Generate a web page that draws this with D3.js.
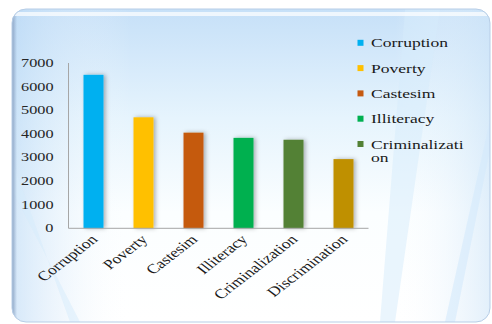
<!DOCTYPE html>
<html>
<head>
<meta charset="utf-8">
<script src="https://cdn.jsdelivr.net/npm/d3@7"></script>
<style>
html,body{margin:0;padding:0;background:#fff;}
svg{display:block;}
svg text{font-family:"Liberation Serif","Times New Roman","DejaVu Serif",serif;}
</style>
</head>
<body>
<script>
const categories = ["Corruption","Poverty","Castesim","Illiteracy","Criminalization","Discrimination"];
const values = [6500, 4700, 4050, 3830, 3750, 2930];
const colors = ["#00b0f0","#ffc000","#c55a11","#00b050","#538135","#bf9000"];
const legendLabels = [["Corruption"],["Poverty"],["Castesim"],["Illiteracy"],["Criminalizati","on"]];
const yTicks = [0,1000,2000,3000,4000,5000,6000,7000];

const W = 492, H = 324, SX = 1.3;
const svg = d3.select("body").append("svg").attr("width",W).attr("height",H);
const defs = svg.append("defs");

const g1 = defs.append("linearGradient").attr("id","bgV").attr("x1",0).attr("y1",0).attr("x2",0).attr("y2",1);
g1.append("stop").attr("offset","0%").attr("stop-color","#c6e0f8");
g1.append("stop").attr("offset","35%").attr("stop-color","#e6f4fd");
g1.append("stop").attr("offset","65%").attr("stop-color","#fbfeff");
g1.append("stop").attr("offset","100%").attr("stop-color","#ffffff");

const g2 = defs.append("linearGradient").attr("id","bgH").attr("x1",0).attr("y1",0).attr("x2",1).attr("y2",0);
g2.append("stop").attr("offset","0%").attr("stop-color","#b9d8f5").attr("stop-opacity",0.6);
g2.append("stop").attr("offset","25%").attr("stop-color","#ffffff").attr("stop-opacity",0);
g2.append("stop").attr("offset","80%").attr("stop-color","#ffffff").attr("stop-opacity",0);
g2.append("stop").attr("offset","100%").attr("stop-color","#cfe5f8").attr("stop-opacity",0.6);

const gL = defs.append("linearGradient").attr("id","edgeL").attr("x1",0).attr("y1",0).attr("x2",1).attr("y2",0);
gL.append("stop").attr("offset","0%").attr("stop-color","#8ea6c6");
gL.append("stop").attr("offset","100%").attr("stop-color","#8ea6c6").attr("stop-opacity",0);

const sh = defs.append("filter").attr("id","shadow").attr("x","-50%").attr("y","-10%").attr("width","200%").attr("height","120%");
sh.append("feDropShadow").attr("dx",2).attr("dy",0).attr("stdDeviation",2).attr("flood-color","#000").attr("flood-opacity",0.3);

const clip = defs.append("clipPath").attr("id","panelClip");
clip.append("rect").attr("x",12).attr("y",9).attr("width",478).attr("height",313).attr("rx",14);

// panel
svg.append("rect").attr("x",12).attr("y",9).attr("width",478).attr("height",313).attr("rx",14).attr("fill","url(#bgV)");
const pg = svg.append("g").attr("clip-path","url(#panelClip)");
pg.append("rect").attr("x",12).attr("y",9).attr("width",478).attr("height",313).attr("fill","url(#bgH)");
pg.append("path").attr("d","M 405 9 L 440 9 L 395 322 L 380 322 Z").attr("fill","#d6ebfb").attr("opacity",0.5);
pg.append("path").attr("d","M 490 120 L 490 150 L 455 322 L 445 322 Z").attr("fill","#d3eafb").attr("opacity",0.6);
pg.append("path").attr("d","M 12 160 L 12 190 L 80 322 L 70 322 Z").attr("fill","#d6ebfb").attr("opacity",0.5);
pg.append("rect").attr("x",12).attr("y",9).attr("width",5).attr("height",313).attr("fill","url(#edgeL)");
pg.append("rect").attr("x",12).attr("y",12).attr("width",478).attr("height",4).attr("fill","#ffffff").attr("opacity",0.7);
svg.append("rect").attr("x",12).attr("y",9).attr("width",478).attr("height",313).attr("rx",14)
  .attr("fill","none").attr("stroke","#b7cde6").attr("stroke-width",1);

// scales
const x = d3.scaleBand().domain(categories).range([68.5,368.5]).paddingInner(0.6).paddingOuter(0.3);
const y = d3.scaleLinear().domain([0,7000]).range([228.3,63]);

// bars
svg.append("g").selectAll("rect").data(categories).join("rect")
  .attr("x",d=>x(d)).attr("width",x.bandwidth())
  .attr("y",(d,i)=>y(values[i])).attr("height",(d,i)=>y(0)-y(values[i]))
  .attr("fill",(d,i)=>colors[i]).attr("filter","url(#shadow)");

// axis lines
svg.append("line").attr("x1",68.5).attr("x2",68.5).attr("y1",y(7000)).attr("y2",y(0)).attr("stroke","#a6a6a6").attr("stroke-width",1);
svg.append("line").attr("x1",68.5).attr("x2",368.5).attr("y1",y(0)).attr("y2",y(0)).attr("stroke","#a6a6a6").attr("stroke-width",1);

// y tick labels
svg.append("g").selectAll("text").data(yTicks).join("text")
  .attr("transform",d=>`translate(53.5,${y(d)+4}) scale(${SX},1)`)
  .attr("text-anchor","end").attr("font-size",12.5).attr("fill","#262626")
  .text(d=>d);

// x labels
svg.append("g").selectAll("text").data(categories).join("text")
  .attr("transform",d=>`translate(${x(d)+x.bandwidth()/2+5},${y(0)+12}) scale(${SX},1) rotate(-45)`)
  .attr("text-anchor","end").attr("font-size",13.5).attr("fill","#1a1a1a")
  .text(d=>d);

// legend
const lg = svg.append("g");
legendLabels.forEach((lines,i)=>{
  const by = 47.3 + i*25.3;
  lg.append("rect").attr("x",357.5).attr("y",by-7.5).attr("width",6).attr("height",6).attr("fill",colors[i]);
  const t = lg.append("text").attr("transform",`translate(371,${by}) scale(${SX},1)`)
    .attr("font-size",13.5).attr("fill","#1a1a1a");
  lines.forEach((l,j)=>t.append("tspan").attr("x",0).attr("dy",j===0?0:13.5).text(l));
});
</script>
</body>
</html>
